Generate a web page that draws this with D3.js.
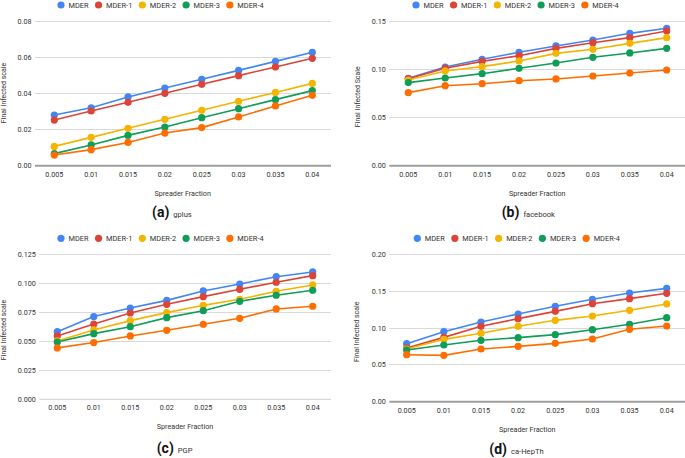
<!DOCTYPE html>
<html lang="en">
<head>
<meta charset="UTF-8"/>
<title>MDER spreader fraction</title>
<script src="https://d3js.org/d3.v7.min.js"></script>
<style>
    body { margin: 0; background: #fff; }
    text { font-family: Roboto, "Liberation Sans", sans-serif; fill: #333; }
    .grid line { stroke: #d9d9d9; stroke-width: 1px; shape-rendering: crispEdges; }
    .base { stroke: #9e9e9e; stroke-width: 2px; }
    .series { fill: none; stroke-width: 1.6px; }
</style>
</head>
<body>
<svg width="685" height="458"></svg>
<script>
    const fractions = ["0.005", "0.01", "0.015", "0.02", "0.025", "0.03", "0.035", "0.04"];
    const seriesNames = ["MDER", "MDER-1", "MDER-2", "MDER-3", "MDER-4"];
    const colors = ["#4285f4", "#db4437", "#f4b400", "#0f9d58", "#ff6d01"];

    // (a) gplus
    const gplusMDER  = [0.0281, 0.0321, 0.0381, 0.0430, 0.0479, 0.0528, 0.0578, 0.0628];
    const gplusMDER1 = [0.0253, 0.0303, 0.0351, 0.0401, 0.0451, 0.0499, 0.0547, 0.0595];
    const gplusMDER2 = [0.0107, 0.0157, 0.0207, 0.0257, 0.0307, 0.0357, 0.0406, 0.0456];
    const gplusMDER3 = [0.0067, 0.0115, 0.0168, 0.0214, 0.0266, 0.0316, 0.0366, 0.0416];
    const gplusMDER4 = [0.0059, 0.0089, 0.0129, 0.0181, 0.0211, 0.0270, 0.0331, 0.0390];
    const gplusTicks = [0, 0.02, 0.04, 0.06, 0.08];

    // (b) facebook
    const fbMDER  = [0.0908, 0.1025, 0.1105, 0.1178, 0.1244, 0.1306, 0.1375, 0.1427];
    const fbMDER1 = [0.0904, 0.1012, 0.1084, 0.1143, 0.1219, 0.1278, 0.1330, 0.1400];
    const fbMDER2 = [0.0890, 0.0984, 0.1029, 0.1088, 0.1167, 0.1209, 0.1271, 0.1330];
    const fbMDER3 = [0.0863, 0.0911, 0.0956, 0.1012, 0.1067, 0.1126, 0.1171, 0.1219];
    const fbMDER4 = [0.0759, 0.0831, 0.0852, 0.0883, 0.0901, 0.0932, 0.0963, 0.0994];
    const fbTicks = [0, 0.05, 0.10, 0.15];

    // (c) PGP
    const pgpMDER  = [0.0583, 0.0713, 0.0787, 0.0853, 0.0934, 0.0994, 0.1057, 0.1098];
    const pgpMDER1 = [0.0546, 0.0649, 0.0744, 0.0819, 0.0885, 0.0948, 0.1009, 0.1066];
    const pgpMDER2 = [0.0503, 0.0598, 0.0678, 0.0747, 0.0810, 0.0862, 0.0931, 0.0986];
    const pgpMDER3 = [0.0494, 0.0566, 0.0626, 0.0704, 0.0764, 0.0845, 0.0897, 0.0940];
    const pgpMDER4 = [0.0443, 0.0489, 0.0546, 0.0595, 0.0647, 0.0698, 0.0779, 0.0802];
    const pgpTicks = [0, 0.025, 0.050, 0.075, 0.100, 0.125];

    // (d) ca-HepTh
    const hepMDER  = [0.0787, 0.0950, 0.1081, 0.1190, 0.1294, 0.1389, 0.1475, 0.1538];
    const hepMDER1 = [0.0729, 0.0873, 0.1023, 0.1127, 0.1226, 0.1330, 0.1398, 0.1471];
    const hepMDER2 = [0.0715, 0.0846, 0.0928, 0.1023, 0.1104, 0.1163, 0.1240, 0.1326];
    const hepMDER3 = [0.0701, 0.0769, 0.0833, 0.0869, 0.0910, 0.0977, 0.1050, 0.1140];
    const hepMDER4 = [0.0638, 0.0629, 0.0715, 0.0751, 0.0792, 0.0851, 0.0982, 0.1027];
    const hepTicks = [0, 0.05, 0.10, 0.15, 0.20];

    const svg = d3.select("svg");

    function panel(p) {
        const g = svg.append("g");
        const x = d3.scalePoint().domain(fractions).range([p.x0, p.x1]);
        const ticks = p.ticks;
        const y = d3.scaleLinear().domain([0, ticks[ticks.length - 1]]).range([p.yb, p.yt]);
        const fmt = d3.format(p.fmt);

        // gridlines
        const grid = g.append("g").attr("class", "grid");
        grid.selectAll("line").data(ticks.slice(1)).enter().append("line")
            .attr("x1", p.gl).attr("x2", p.gr)
            .attr("y1", d => y(d)).attr("y2", d => y(d));
        g.append("line").attr("class", p.thinBase ? "" : "base")
            .attr("stroke", p.thinBase ? "#cfcfcf" : null)
            .attr("x1", p.gl).attr("x2", p.gr)
            .attr("y1", y(0)).attr("y2", y(0));

        // y tick labels
        g.selectAll(".ylab").data(ticks).enter().append("text")
            .attr("x", p.gl - 3.5).attr("y", d => y(d)).attr("dy", "0.35em")
            .attr("text-anchor", "end").attr("font-size", 7.2)
            .text(d => fmt(d));

        // x tick labels
        g.selectAll(".xlab").data(fractions).enter().append("text")
            .attr("x", d => x(d)).attr("y", p.xlabY).attr("dy", "0.35em")
            .attr("text-anchor", "middle").attr("font-size", 7.2)
            .text(d => d);

        const line = d3.line().x((d, i) => x(fractions[i])).y(d => y(d));
        p.series.forEach((vals, k) => {
            g.append("path").attr("class", "series")
                .attr("stroke", colors[k]).attr("d", line(vals));
        });
        p.series.forEach((vals, k) => {
            g.selectAll(".pt" + k).data(vals).enter().append("circle")
                .attr("cx", (d, i) => x(fractions[i])).attr("cy", d => y(d))
                .attr("r", 3.6).attr("fill", colors[k]);
        });

        // legend
        let lx = p.legX;
        seriesNames.forEach((name, k) => {
            g.append("circle").attr("cx", lx).attr("cy", p.legY).attr("r", 3.6).attr("fill", colors[k]);
            const t = g.append("text").attr("x", lx + 7.5).attr("y", p.legY).attr("dy", "0.35em")
                .attr("font-size", 7.4).text(name);
            lx += 7.5 + t.node().getComputedTextLength() + 10;
        });

        // axis titles
        g.append("text")
            .attr("transform", "translate(" + p.ytX + "," + p.ytY + ") rotate(-90)")
            .attr("text-anchor", "middle").attr("dy", "0.35em").attr("font-size", 7)
            .text(p.yTitle);
        g.append("text").attr("x", p.xtX).attr("y", p.xtY).attr("dy", "0.35em")
            .attr("text-anchor", "middle").attr("font-size", 7.2).text("Spreader Fraction");

        // caption
        const cap = g.append("text").attr("x", p.capX).attr("y", p.capY).attr("dy", "0.35em");
        cap.append("tspan").attr("font-size", 14).attr("font-weight", "bold")
            .attr("fill", "#111").text(p.letter);
        cap.append("tspan").attr("font-size", 7.6).attr("dx", 4).text(p.name);
    }

    panel({
        x0: 54.3, x1: 312.3, yt: 21.3, yb: 165.7, gl: 35, gr: 331,
        ticks: gplusTicks, fmt: ".2f",
        series: [gplusMDER, gplusMDER1, gplusMDER2, gplusMDER3, gplusMDER4],
        legX: 61, legY: 5, xlabY: 174, ytX: 3.5, ytY: 93, yTitle: "Final Infected scale",
        xtX: 182.7, xtY: 193, capX: 152, capY: 211.7, letter: "(a)", name: "gplus"
    });
    panel({
        x0: 408.3, x1: 666.7, yt: 21.3, yb: 165.7, gl: 389.3, gr: 685,
        ticks: fbTicks, fmt: ".2f",
        series: [fbMDER, fbMDER1, fbMDER2, fbMDER3, fbMDER4],
        legX: 416, legY: 5, xlabY: 174, ytX: 357.3, ytY: 96.7, yTitle: "Final Infected Scale",
        xtX: 537.3, xtY: 193, capX: 501.7, capY: 211.7, letter: "(b)", name: "facebook"
    });
    panel({
        x0: 57.3, x1: 312.7, yt: 254.3, yb: 399.3, gl: 39.3, gr: 331,
        ticks: pgpTicks, fmt: ".3f", thinBase: true,
        series: [pgpMDER, pgpMDER1, pgpMDER2, pgpMDER3, pgpMDER4],
        legX: 61, legY: 238.3, xlabY: 407.3, ytX: 3.5, ytY: 330, yTitle: "Final Infected scale",
        xtX: 185, xtY: 426.7, capX: 156.7, capY: 447.8, letter: "(c)", name: "PGP"
    });
    panel({
        x0: 406.7, x1: 666.7, yt: 254.3, yb: 401.7, gl: 389.3, gr: 685,
        ticks: hepTicks, fmt: ".2f",
        series: [hepMDER, hepMDER1, hepMDER2, hepMDER3, hepMDER4],
        legX: 417.3, legY: 238.3, xlabY: 410, ytX: 356.7, ytY: 331.7, yTitle: "Final Infected scale",
        xtX: 527.3, xtY: 429.3, capX: 489.3, capY: 448.8, letter: "(d)", name: "ca-HepTh"
    });
</script>
</body>
</html>
